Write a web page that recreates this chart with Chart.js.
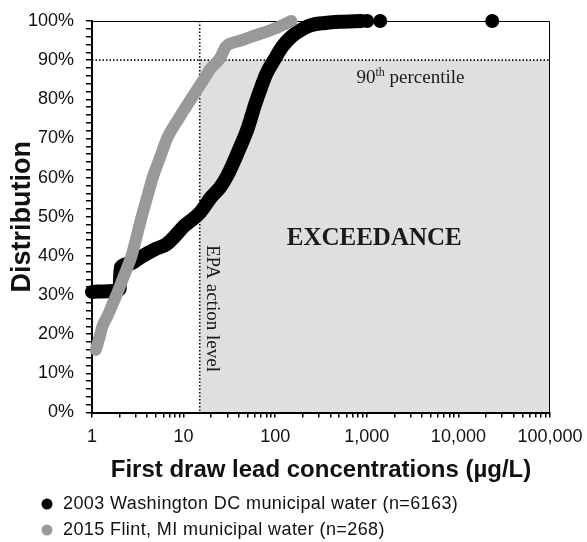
<!DOCTYPE html>
<html><head><meta charset="utf-8">
<script src="https://cdn.jsdelivr.net/npm/chart.js@4.4.1/dist/chart.umd.min.js"></script>
<style>html,body{margin:0;padding:0;background:#fff;}#wrap{width:587px;height:542px;}</style>
</head><body><div id="wrap"><canvas id="c" width="587" height="542"></canvas></div>
<script>
// ---- data ----
const seriesNames = ['2003 Washington DC municipal water (n=6163)', '2015 Flint, MI municipal water (n=268)'];
const seriesColors = ['#000000', '#999999'];
const dcLead = [1, 1.5, 2.0, 2.05, 2.6, 3.3, 5, 6.5, 8, 10, 12, 15, 20, 25, 30, 40, 50, 60, 70, 80, 100, 120, 150, 200, 250, 350, 500, 880];
const dcPct  = [30.8, 31.0, 31.5, 37, 38, 39.5, 41.8, 43, 45, 47.5, 49, 51, 55, 57.5, 60.5, 67, 72.5, 78.5, 83, 86.5, 90.5, 93.5, 96, 98, 99, 99.5, 99.8, 100];
const dcOutlierLead = [1010, 1400, 23400];
const dcOutlierPct  = [100, 100, 100];
const flintLead = [1.1, 1.2, 1.3, 1.5, 1.7, 1.85, 2.2, 2.7, 3.0, 3.4, 4.0, 4.6, 5.5, 6.6, 8.8, 12, 16.5, 20, 25, 29, 35, 42, 55, 70, 85, 105, 130, 150];
const flintPct  = [16, 19, 22, 25, 28, 30, 34.5, 40, 44, 49, 55, 60, 65, 70, 75, 80, 85, 88, 90.5, 93.5, 94.5, 95, 96, 96.8, 97.5, 98.3, 99.3, 100];
const xTickValues = [1, 10, 100, 1000, 10000, 100000];
const xTickLabels = ['1', '10', '100', '1,000', '10,000', '100,000'];
const minorMultipliers = [2, 3, 4, 5, 6, 7, 8, 9];
const actionLevel = 15;
const percentile90 = 90;

const toPts = (xs, ys) => xs.map((x, i) => ({x: x, y: ys[i]}));

const allXTicks = [];
xTickValues.forEach((d, i) => {
  allXTicks.push(d);
  if (i < xTickValues.length - 1) minorMultipliers.forEach(m => allXTicks.push(d * m));
});
allXTicks.sort((a, b) => a - b);

const SANS = '"Liberation Sans", Arial, sans-serif';
const SERIF = '"Liberation Serif", "Times New Roman", serif';

const decor = {
  id: 'decor',
  beforeDraw(chart) {
    const {ctx} = chart; const xs = chart.scales.x, ys = chart.scales.y;
    const x0 = xs.getPixelForValue(actionLevel), x1 = xs.getPixelForValue(100000);
    const y0 = ys.getPixelForValue(percentile90), y1 = ys.getPixelForValue(0);
    ctx.save(); ctx.fillStyle = '#dfdfdf'; ctx.fillRect(x0, y0, x1 - x0, y1 - y0); ctx.restore();
  },
  beforeDatasetsDraw(chart) {
    const {ctx, chartArea: a} = chart; const xs = chart.scales.x, ys = chart.scales.y;
    ctx.save();
    ctx.strokeStyle = '#000'; ctx.lineWidth = 1;
    ctx.beginPath(); ctx.moveTo(a.left, a.top + 0.5); ctx.lineTo(a.right - 0.5, a.top + 0.5); ctx.lineTo(a.right - 0.5, a.bottom); ctx.stroke();
    ctx.setLineDash([1.5, 2]); ctx.lineWidth = 1.6; ctx.strokeStyle = '#111';
    const yp = ys.getPixelForValue(percentile90);
    ctx.beginPath(); ctx.moveTo(a.left, yp); ctx.lineTo(a.right, yp); ctx.stroke();
    const xp = xs.getPixelForValue(actionLevel);
    ctx.beginPath(); ctx.moveTo(xp, a.top); ctx.lineTo(xp, a.bottom); ctx.stroke();
    ctx.setLineDash([]);
    ctx.fillStyle = '#1a1a1a';
    ctx.font = 'bold 25px ' + SERIF; ctx.textAlign = 'center'; ctx.textBaseline = 'middle';
    ctx.fillText('EXCEEDANCE', xs.getPixelForValue(1205), ys.getPixelForValue(44.5));
    ctx.textAlign = 'left'; ctx.textBaseline = 'alphabetic';
    const f1 = '19px ' + SERIF, f2 = '12px ' + SERIF;
    ctx.font = f1; const w1 = ctx.measureText('90').width; const w3 = ctx.measureText(' percentile').width;
    ctx.font = f2; const w2 = ctx.measureText('th').width;
    const total = w1 + w2 + w3;
    let sx = xs.getPixelForValue(3000) - total / 2; const by = yp + 22.5;
    ctx.font = f1; ctx.fillText('90', sx, by); sx += w1;
    ctx.font = f2; ctx.fillText('th', sx, by - 7); sx += w2;
    ctx.font = f1; ctx.fillText(' percentile', sx, by);
    ctx.translate(xp + 7.5, ys.getPixelForValue(42.8)); ctx.rotate(Math.PI / 2);
    ctx.font = '19px ' + SERIF; ctx.fillText('EPA action level', 0, 0);
    ctx.restore();
  },
  afterDraw(chart) {
    const {ctx} = chart; const H = chart.height;
    ctx.save();
    ctx.font = '18px ' + SANS; ctx.textAlign = 'left'; ctx.textBaseline = 'middle';
    try { ctx.letterSpacing = '0.4px'; } catch (e) {}
    const rows = [H - 38, H - 12];
    seriesNames.forEach((name, i) => {
      ctx.fillStyle = seriesColors[i];
      ctx.beginPath(); ctx.arc(47, rows[i], 5.5, 0, Math.PI * 2); ctx.fill();
      ctx.fillStyle = '#111'; ctx.fillText(name, 63, rows[i] + 0.5);
    });
    ctx.restore();
  }
};

new Chart(document.getElementById('c'), {
  type: 'scatter',
  data: {
    datasets: [
      {label: seriesNames[0], data: toPts(dcLead, dcPct), showLine: true, borderColor: seriesColors[0], backgroundColor: seriesColors[0],
       borderWidth: 14, pointRadius: 0, borderCapStyle: 'round', borderJoinStyle: 'round', cubicInterpolationMode: 'monotone', clip: false, order: 2},
      {label: seriesNames[0] + ' (max)', data: toPts(dcOutlierLead, dcOutlierPct), showLine: false, pointRadius: 7, pointBackgroundColor: seriesColors[0],
       pointBorderWidth: 0, clip: false, order: 3},
      {label: seriesNames[1], data: toPts(flintLead, flintPct), showLine: true, borderColor: seriesColors[1], backgroundColor: seriesColors[1],
       borderWidth: 12, pointRadius: 0, borderCapStyle: 'round', borderJoinStyle: 'round', cubicInterpolationMode: 'monotone', clip: false, order: 1}
    ]
  },
  options: {
    responsive: false, animation: false, devicePixelRatio: 1,
    layout: {padding: {left: 0, right: 37, top: 21, bottom: 57.5}},
    plugins: {legend: {display: false}, tooltip: {enabled: false}},
    scales: {
      x: {
        type: 'logarithmic', min: 1, max: 100000,
        afterBuildTicks: s => { s.ticks = allXTicks.map(v => ({value: v})); },
        afterFit: s => { s.height = 72; s.paddingRight = 0; s.paddingLeft = 0; },
        grid: {drawOnChartArea: false, drawTicks: true, tickLength: 5, color: '#000', lineWidth: 1.5},
        border: {display: true, color: '#000', width: 2},
        ticks: {autoSkip: false, maxRotation: 0, minRotation: 0, padding: 9, color: '#111', font: {family: SANS, size: 18},
          callback: v => { const i = xTickValues.indexOf(v); return i >= 0 ? xTickLabels[i] : ''; }},
        title: {display: true, text: 'First draw lead concentrations (µg/L)', color: '#111', font: {family: SANS, size: 24, weight: 'bold'}, padding: {top: 0, bottom: 0}}
      },
      y: {
        type: 'linear', min: 0, max: 100,
        afterFit: s => { s.width = 92; s.paddingTop = 0; s.paddingBottom = 0; },
        grid: {drawOnChartArea: false, drawTicks: true, tickLength: 6, color: '#000', lineWidth: 1.5},
        border: {display: true, color: '#000', width: 2},
        ticks: {stepSize: 2, autoSkip: false, padding: 12, color: '#111', font: {family: SANS, size: 18},
          callback: v => (v % 10 === 0 ? v + '%' : '')},
        title: {display: true, text: 'Distribution', color: '#111', font: {family: SANS, size: 27, weight: 'bold'}, padding: {top: 6, bottom: 0}}
      }
    }
  },
  plugins: [decor]
});
</script></body></html>
